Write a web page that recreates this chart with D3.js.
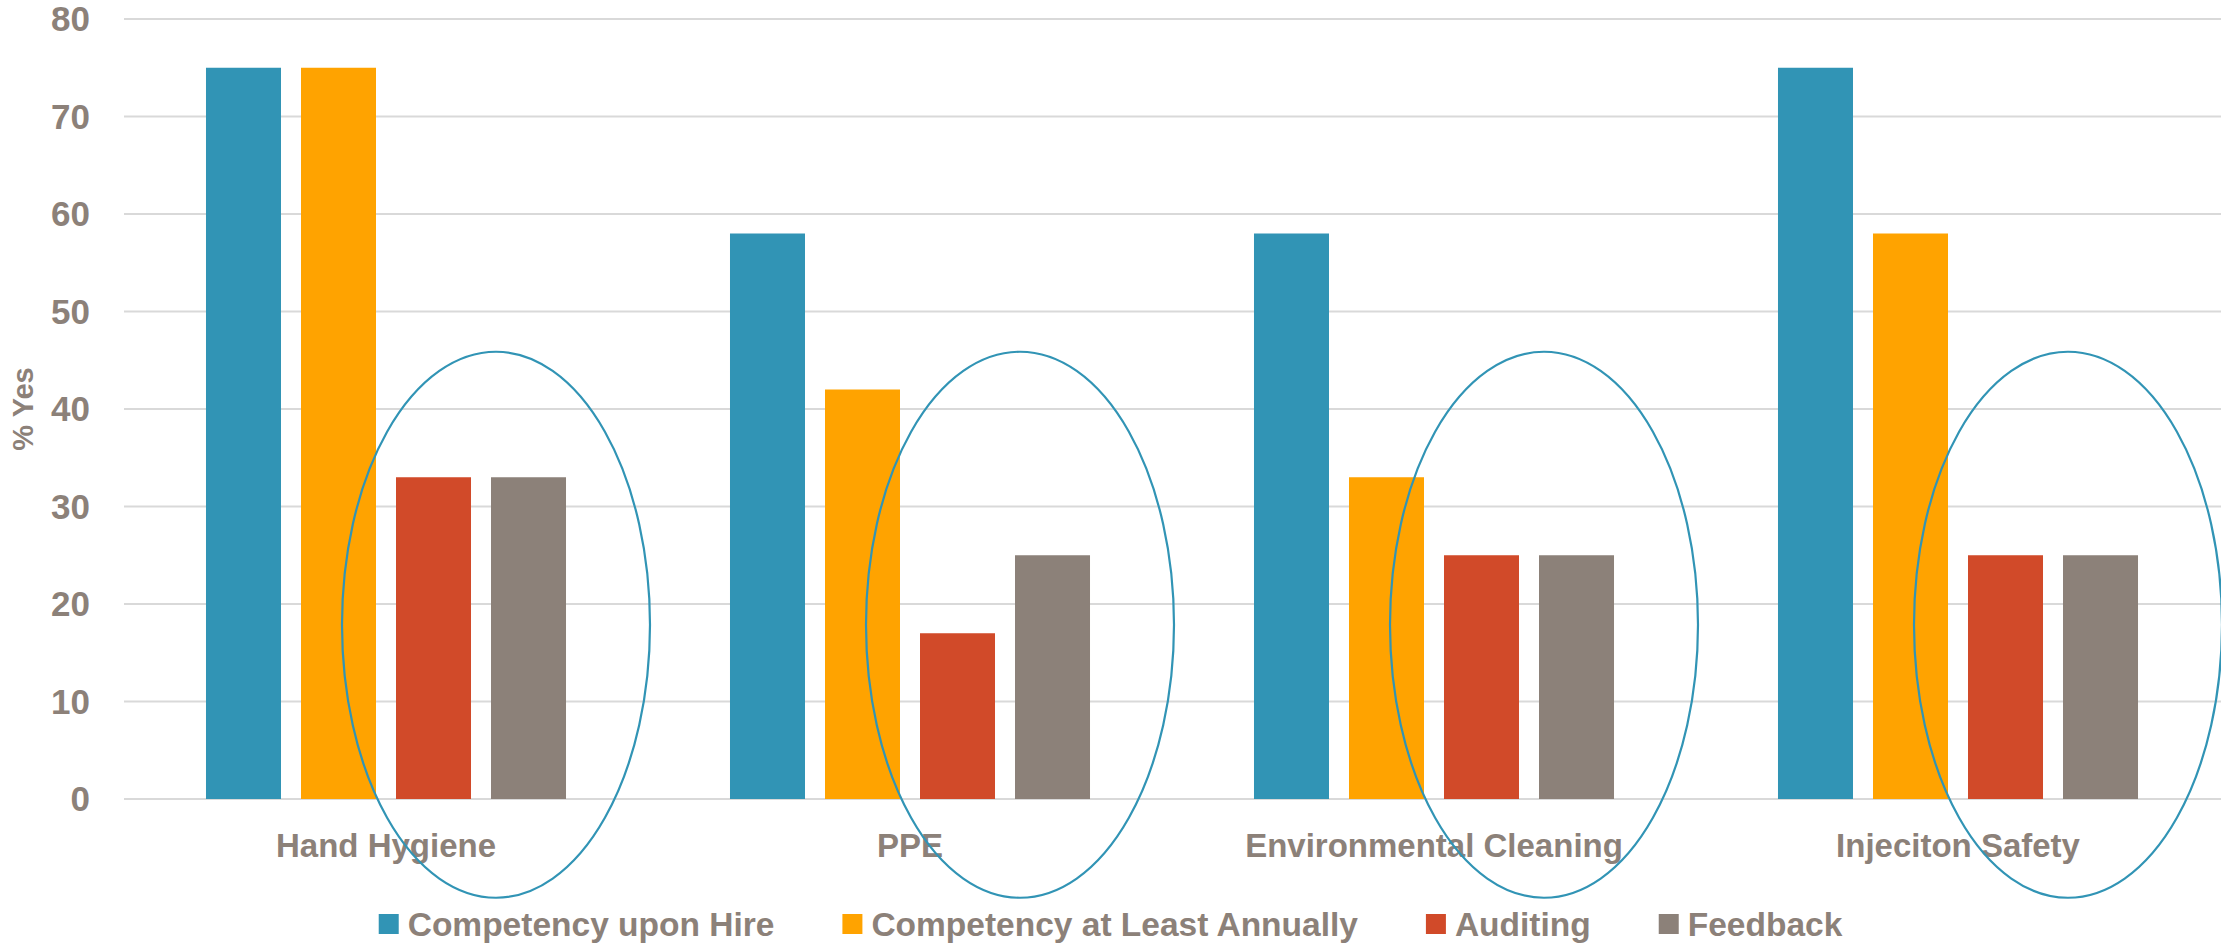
<!DOCTYPE html>
<html><head><meta charset="utf-8">
<script src="https://cdn.jsdelivr.net/npm/d3@7"></script>
<style>
html,body{margin:0;padding:0;background:#fff;}
text{font-family:"Liberation Sans",Arial,sans-serif;font-weight:bold;fill:#8C8179;}
</style></head>
<body>
<svg id="chart" width="2221" height="945"></svg>
<script>
const categories = ["Hand Hygiene", "PPE", "Environmental Cleaning", "Injeciton Safety"];
const seriesNames = ["Competency upon Hire", "Competency at Least Annually", "Auditing", "Feedback"];
const competencyUponHire = [75, 58, 58, 75];
const competencyAnnually = [75, 42, 33, 58];
const auditing = [33, 17, 25, 25];
const feedback = [33, 25, 25, 25];
const yTicks = [0, 10, 20, 30, 40, 50, 60, 70, 80];
const colors = ["#3194B5", "#FFA300", "#D14A29", "#8C8179"];

const seriesValues = [competencyUponHire, competencyAnnually, auditing, feedback];
const W = 2221, H = 945;
const svg = d3.select("#chart");
const mLeft = 124, mRight = 2220, mTop = 19, mBottom = 799;

const y = d3.scaleLinear().domain([0, 80]).range([mBottom, mTop]);
const x0 = d3.scaleBand().domain(categories).range([mLeft, mRight]).padding(0);
const x1 = d3.scaleBand().domain(seriesNames).range([0, x0.bandwidth()])
  .paddingInner(0.2105).paddingOuter(0.863);

// gridlines
svg.append("g").selectAll("line").data(yTicks).join("line")
  .attr("x1", mLeft).attr("x2", W)
  .attr("y1", d => y(d)).attr("y2", d => y(d))
  .attr("stroke", "#D9D9D9").attr("stroke-width", 2);

// y axis labels
const yAxis = d3.axisLeft(y).tickValues(yTicks).tickSize(0).tickPadding(0);
const ya = svg.append("g").attr("transform", "translate(90,0)").call(yAxis);
ya.select(".domain").remove();
ya.selectAll("text").style("font-size", "35px").attr("fill", "#8C8179").attr("dy", "0.34em")
  .style("font-family", '"Liberation Sans",Arial,sans-serif').style("font-weight", "bold");

// y title
svg.append("text").attr("transform", "translate(33,409) rotate(-90)")
  .attr("text-anchor", "middle").style("font-size", "29px").text("% Yes");

// bars
const groups = svg.append("g").selectAll("g").data(categories).join("g")
  .attr("transform", d => `translate(${x0(d)},0)`);
groups.selectAll("rect").data((c, ci) => seriesNames.map((s, si) => ({s, si, v: seriesValues[si][ci]})))
  .join("rect")
  .attr("x", d => x1(d.s)).attr("width", x1.bandwidth())
  .attr("y", d => y(d.v)).attr("height", d => y(0) - y(d.v))
  .attr("fill", d => colors[d.si]);

// x axis labels
const xAxis = d3.axisBottom(x0).tickSize(0).tickPadding(0);
const xa = svg.append("g").attr("transform", `translate(0,${mBottom})`).call(xAxis);
xa.select(".domain").remove();
xa.selectAll("text").style("font-size", "33px").attr("fill", "#8C8179").attr("dy", null).attr("y", 58)
  .style("font-family", '"Liberation Sans",Arial,sans-serif').style("font-weight", "bold");

// annotation ellipses around Auditing + Feedback
svg.append("g").selectAll("ellipse").data(categories).join("ellipse")
  .attr("cx", d => x0(d) + x0.bandwidth() / 2 + 110)
  .attr("cy", (y(0) + y(46)) / 2 + 50)
  .attr("rx", 154).attr("ry", 273)
  .attr("fill", "none").attr("stroke", "#3194B5").attr("stroke-width", 2.2);

// legend
const leg = svg.append("g");
let cx = 0;
seriesNames.forEach((s, i) => {
  const g = leg.append("g").attr("transform", `translate(${cx},0)`);
  g.append("rect").attr("x", 0).attr("y", -10).attr("width", 20).attr("height", 20).attr("fill", colors[i]);
  const t = g.append("text").attr("x", 29).attr("y", 12).style("font-size", "33.5px").text(s);
  cx += 29 + t.node().getComputedTextLength() + 68;
});
const legW = cx - 68;
leg.attr("transform", `translate(${(W - legW) / 2},924)`);
</script>
</body></html>
